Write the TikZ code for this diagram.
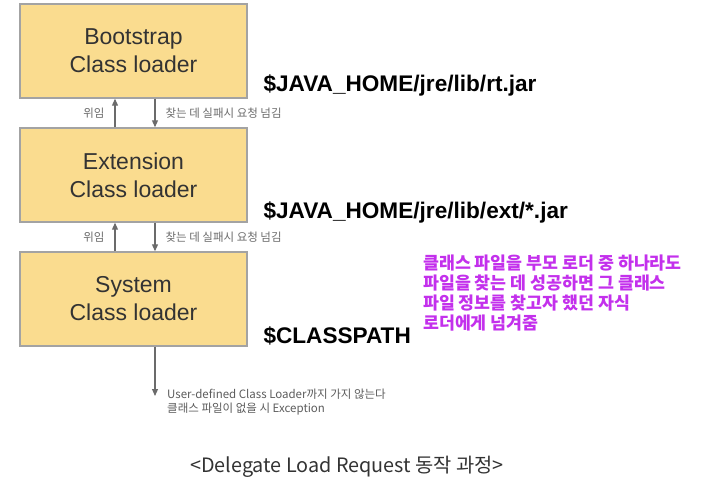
\documentclass[tikz,border=0pt]{standalone}
\usepackage{fontspec}
\setmainfont{Liberation Sans}
\newfontfamily\kr{Noto Sans CJK KR}
\usetikzlibrary{arrows.meta, positioning}
\definecolor{boxfill}{HTML}{FADC8F}
\definecolor{boxline}{HTML}{A3A3A3}
\definecolor{arrowgray}{HTML}{6B6B6B}
\definecolor{textdark}{HTML}{333333}
\definecolor{notepink}{HTML}{C330EC}
\tikzset{
  loader/.style={draw=boxline, line width=1.4pt, fill=boxfill, minimum width=227pt,
                 minimum height=94pt, align=center, text=textdark,
                 font=\fontsize{23}{28}\selectfont},
  jarpath/.style={anchor=base west, text=black, font=\bfseries\fontsize{22.6}{28}\selectfont},
  small/.style={text=arrowgray, font=\kr\fontsize{11.5}{13.5}\selectfont, inner sep=2pt},
  flow/.style={-{Triangle[length=7pt, width=6pt]}, line width=1.1pt, draw=arrowgray},
}

\begin{document}
\begin{tikzpicture}[x=1pt, y=-1pt]
  \useasboundingbox (0,0) rectangle (706,486);
  \node[loader] (boot) at (133.5,51) {Bootstrap\\Class loader};
  \node[loader] (ext) at (133.5,175) {Extension\\Class loader};
  \node[loader] (sys) at (133.5,299) {System\\Class loader};
  \coordinate (upx) at (115,0);
  \coordinate (dnx) at (155,0);
  \coordinate (end) at (155,396);
  \foreach \lo/\hi in {ext/boot, sys/ext}{
    \draw[flow] (\lo.north -| upx) -- (\hi.south -| upx) node[midway, small, left=8pt]{위임};
    \draw[flow] (\hi.south -| dnx) -- (\lo.north -| dnx) node[midway, small, right=8pt]{찾는 데 실패시 요청 넘김};
  }
  \draw[flow] (sys.south -| dnx) -- (end);
  \node[small, anchor=north west, align=left, text=textdark!80] (exc) at (165,387)
    {User-defined Class Loader까지 가지 않는다\\클래스 파일이 없을 시 Exception};
  \node[jarpath] (rt) at (260,92) {\$JAVA\_HOME/jre/lib/rt.jar};
  \node[jarpath] (extjar) at (260,219) {\$JAVA\_HOME/jre/lib/ext/*.jar};
  \node[jarpath] (cp) at (260,343) {\$CLASSPATH};
  \node[anchor=north west, align=left, text=notepink, inner sep=0pt,
        font=\kr\bfseries\fontsize{17.3}{20}\selectfont] (note) at (423,255)
    {클래스 파일을 부모 로더 중 하나라도\\파일을 찾는 데 성공하면 그 클래스\\파일 정보를 찾고자 했던 자식\\로더에게 넘겨줌};
  \node[text=textdark, font=\kr\fontsize{19.8}{22}\selectfont] (cap) at (347,467)
    {<Delegate Load Request 동작 과정>};
\end{tikzpicture}
\end{document}
